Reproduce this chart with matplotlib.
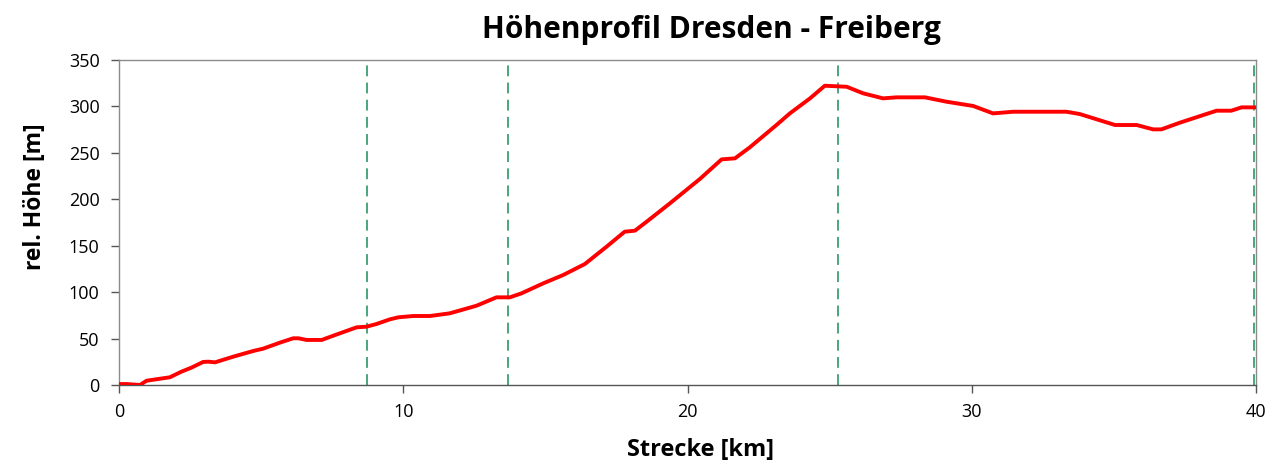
import matplotlib.pyplot as plt

# elevation profile
strecke_km = [0.0, 0.27, 0.74, 0.97, 1.79, 2.2, 2.55, 2.96, 3.14, 3.38, 4.02, 4.72,
              5.07, 5.66, 6.13, 6.31, 6.6, 7.13, 7.54, 8.36, 8.71, 9.06, 9.53, 9.83,
              10.35, 10.94, 11.64, 12.58, 13.28, 13.75, 14.16, 14.92, 15.63, 16.39,
              17.15, 17.79, 18.15, 18.56, 19.38, 20.44, 21.2, 21.67, 22.19, 23.13,
              23.6, 24.31, 24.83, 25.6, 26.18, 26.88, 27.35, 28.35, 29.11, 30.05,
              30.75, 31.46, 33.33, 33.8, 35.04, 35.8, 36.38, 36.67, 37.32, 38.61,
              39.13, 39.49, 40.0]
hoehe_m = [1, 1, 0, 4.6, 8.3, 14.4, 18.7, 24.8, 25.1, 24.4, 30.5, 36.6,
           39.1, 45.6, 50.3, 50.3, 48.5, 48.5, 53.1, 62.1, 62.8, 65.7, 70.7, 72.9,
           74.3, 74.3, 77.2, 85.4, 94.4, 94.4, 98.7, 109.4, 118.5, 130.3,
           148.9, 165.1, 166.2, 175.8, 195.6, 222, 243, 244.1, 255.9, 280,
           292.5, 308.7, 322.3, 321.2, 314.1, 308.7, 309.8, 309.8, 305.1, 300.5,
           292.5, 294.3, 294.3, 291.8, 280, 280, 275.3, 275.3, 282.5, 295.4,
           295.4, 299, 299]

# section markers (km)
abschnitte = [0, 8.72, 13.68, 25.29, 39.92]

plt.rcParams['font.family'] = ['Open Sans', 'DejaVu Sans']

fig = plt.figure(figsize=(12.78, 4.62), dpi=100)
ax = fig.add_axes([0.0931, 0.1667, 0.8897, 0.7034])

for x in abschnitte:
    ax.axvline(x, color='#3d9e6f', lw=1.3, dashes=(6, 3.5), zorder=1)

ax.plot(strecke_km, hoehe_m, color='#ff0000', lw=2.8, zorder=3,
        solid_joinstyle='round', solid_capstyle='butt')

ax.set_xlim(0, 40)
ax.set_ylim(0, 350)
ax.set_xticks(range(0, 41, 10))
ax.set_yticks(range(0, 351, 50))

for side in ['top', 'right', 'left']:
    ax.spines[side].set_color('#8c8c8c')
ax.spines['bottom'].set_color('#555555')
for s in ax.spines.values():
    s.set_linewidth(1.0)

ax.tick_params(axis='both', direction='out', length=6, width=1,
               color='#555555', labelsize=13)
ax.tick_params(axis='x', pad=7)
ax.tick_params(axis='y', pad=8)

# the original labels sit a bit off-centre
ax.set_title('Höhenprofil Dresden - Freiberg', fontsize=21.5, fontweight='bold',
             pad=16, x=0.521)
ax.set_xlabel('Strecke [km]', fontsize=17, fontweight='bold', labelpad=12)
ax.set_ylabel('rel. Höhe [m]', fontsize=16.5, fontweight='bold', labelpad=16)
ax.xaxis.label.set_x(0.511)
ax.yaxis.label.set_y(0.578)

fig.savefig('out.png', dpi=100)
